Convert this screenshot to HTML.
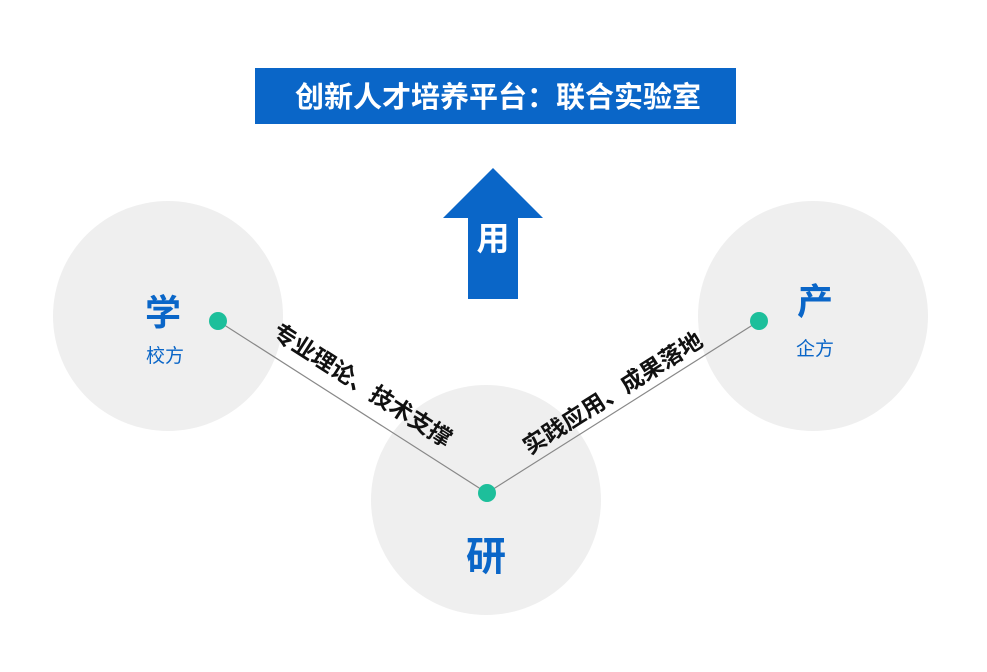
<!DOCTYPE html>
<html><head><meta charset="utf-8"><style>
body{margin:0;background:#fff;}
svg text{font-family:"Liberation Sans","Noto Sans CJK SC",sans-serif;}
</style></head><body>
<svg width="987" height="667" viewBox="0 0 987 667" xmlns="http://www.w3.org/2000/svg">
<rect width="987" height="667" fill="#fff"/>
<circle cx="168" cy="316" r="115" fill="#efefef"/>
<circle cx="813" cy="316" r="115" fill="#efefef"/>
<circle cx="486" cy="500" r="115" fill="#efefef"/>
<rect x="255" y="68" width="481" height="56" fill="#0a66c8"/>
<text x="498" y="107" text-anchor="middle" font-size="29" font-weight="bold" fill="#fff">创新人才培养平台：联合实验室</text>
<polygon points="493,168 543,218 518,218 518,299 468,299 468,218 443,218" fill="#0a66c8"/>
<text x="493" y="250" text-anchor="middle" font-size="33" font-weight="bold" fill="#fff">用</text>
<line x1="218" y1="321" x2="487" y2="493" stroke="#888" stroke-width="1.2"/>
<line x1="487" y1="493" x2="759" y2="321" stroke="#888" stroke-width="1.2"/>
<circle cx="218" cy="321" r="9" fill="#1dbf9b"/>
<circle cx="487" cy="493" r="9" fill="#1dbf9b"/>
<circle cx="759" cy="321" r="9" fill="#1dbf9b"/>
<text transform="translate(358,392) rotate(32.6)" text-anchor="middle" font-size="23" font-weight="bold" fill="#111">专业理论、技术支撑</text>
<text transform="translate(617,400) rotate(-32.3)" text-anchor="middle" font-size="23" font-weight="bold" fill="#111">实践应用、成果落地</text>
<text x="163" y="325" text-anchor="middle" font-size="36" font-weight="bold" fill="#0a66c8">学</text>
<text x="165" y="362" text-anchor="middle" font-size="19" fill="#0a66c8">校方</text>
<text x="815" y="314" text-anchor="middle" font-size="36" font-weight="bold" fill="#0a66c8">产</text>
<text x="815" y="355" text-anchor="middle" font-size="19" fill="#0a66c8">企方</text>
<text x="486" y="570" text-anchor="middle" font-size="40" font-weight="bold" fill="#0a66c8">研</text>
</svg>
</body></html>
